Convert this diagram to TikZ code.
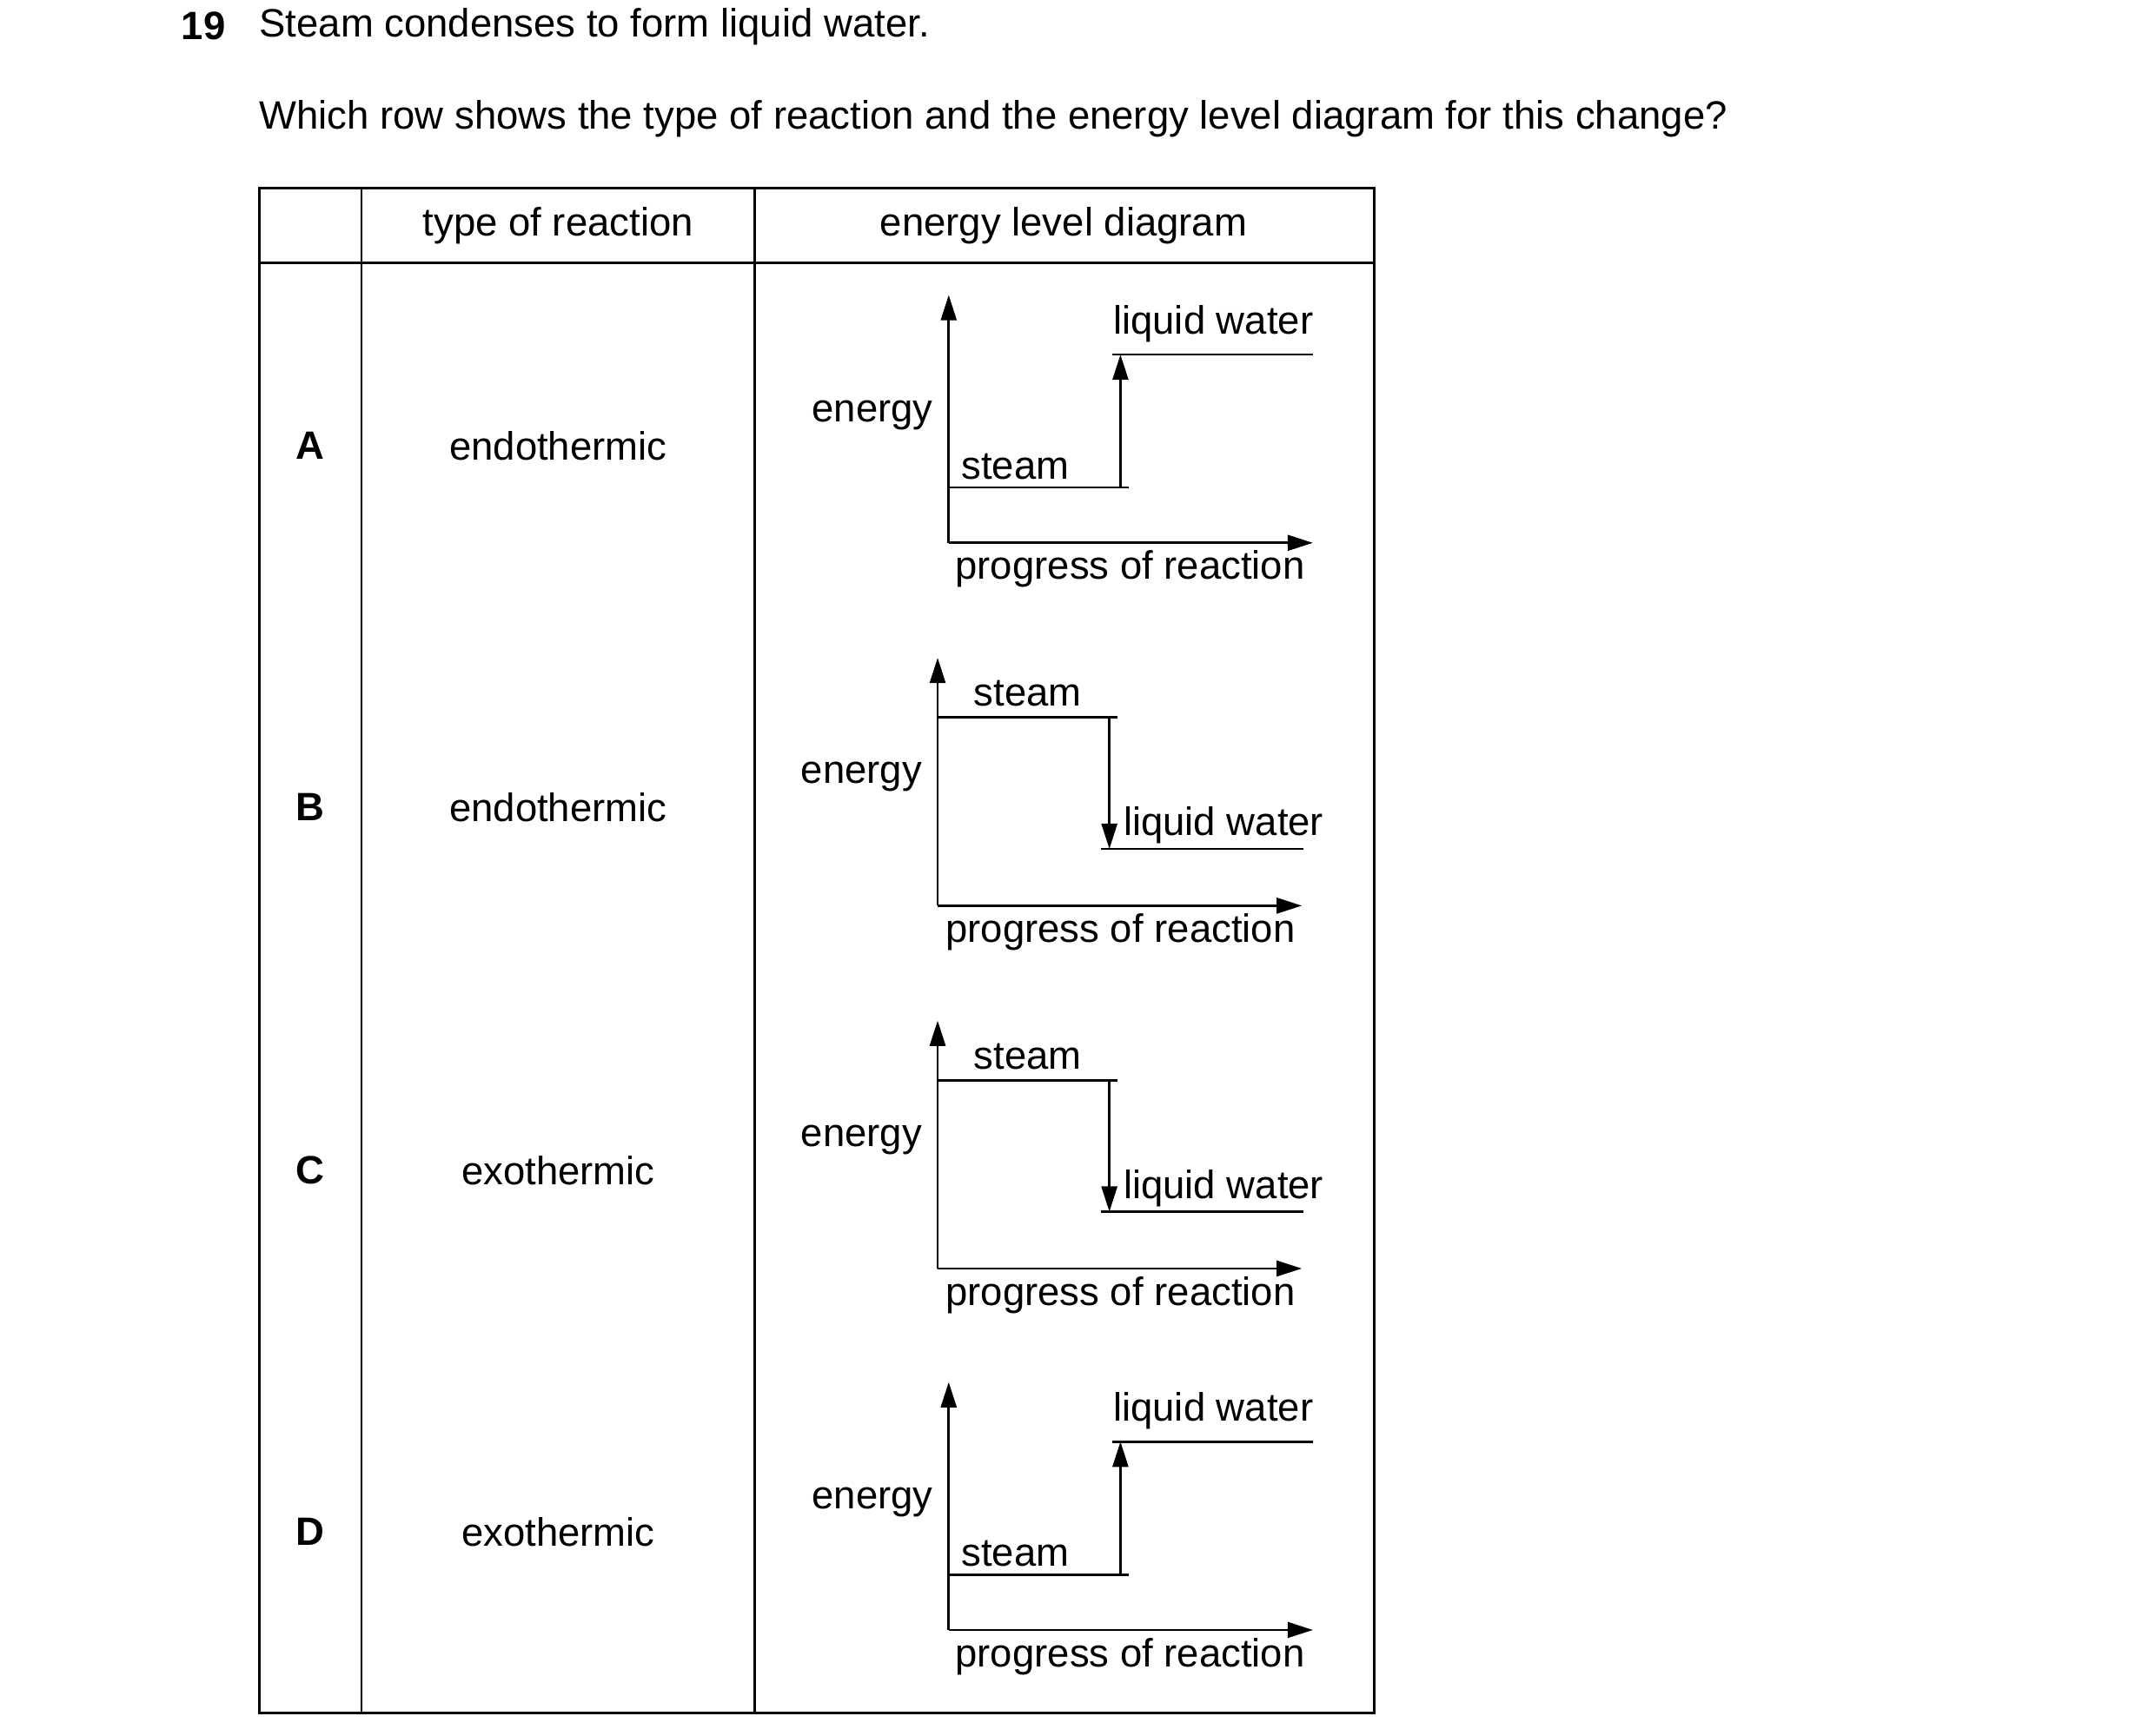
\documentclass[tikz,border=0pt]{standalone}
\usepackage{fontspec}
\setmainfont{Liberation Sans}
\usetikzlibrary{arrows.meta}
\begin{document}
\begin{tikzpicture}[x=0.025cm,y=-0.025cm,
  every node/.style={font=\fontsize{20.3}{24}\selectfont, inner sep=0pt},
  ln/.style={line width=1.3pt},
  ar/.style={line width=1.3pt,-{Triangle[length=13pt,width=8pt]}}]
\useasboundingbox (0,0) rectangle (1556,1253);
% title
\node[font=\fontsize{20.3}{24}\selectfont\bfseries] (q) at (147,19) {19};
\node[anchor=west] (t1) at (187,19) {Steam condenses to form liquid water.};
\node[anchor=west] (t2) at (187,86) {Which row shows the type of reaction and the energy level diagram for this change?};
% table
\draw[ln] (187,136) rectangle (992,1237);
\draw[ln] (187,190) -- (992,190);
\draw[ln] (261,136) -- (261,1237);
\draw[ln] (545,136) -- (545,1237);
\node (h1) at (403,163) {type of reaction};
\node (h2) at (768,163) {energy level diagram};
\foreach \l/\y/\t in {A/322/endothermic,B/583/endothermic,C/845/exothermic,D/1106/exothermic}{
  \node[font=\fontsize{20.3}{24}\selectfont\bfseries] (L\l) at (224,\y) {\l};
  \node (T\l) at (403,\y) {\t};
}
% A and D diagrams
\foreach \n/\o in {A/0,D/785}{
 \begin{scope}[yshift=-\o*0.025cm]
  \coordinate (\n o) at (685,392);
  \coordinate (\n y) at (685,213);
  \coordinate (\n x) at (948,392);
  \coordinate (\n s1) at (685,352); \coordinate (\n s2) at (815,352);
  \coordinate (\n a1) at (809,352); \coordinate (\n a2) at (809,256);
  \coordinate (\n w1) at (803,256); \coordinate (\n w2) at (948,256);
  \draw[ar] (\n o) -- (\n y);
  \draw[ar] (\n o) -- (\n x);
  \draw[ln] (\n s1) -- (\n s2);
  \draw[ar] (\n a1) -- (\n a2);
  \draw[ln] (\n w1) -- (\n w2);
  \node (\n lw) at (876,234) {liquid water};
  \node (\n en) at (630,300) {energy};
  \node[anchor=west] (\n st) at (694,337) {steam};
  \node (\n pr) at (816,411) {progress of reaction};
 \end{scope}}
% B and C diagrams
\foreach \n/\o in {B/0,C/262}{
 \begin{scope}[yshift=-\o*0.025cm]
  \coordinate (\n o) at (677,654);
  \coordinate (\n y) at (677,475);
  \coordinate (\n x) at (940,654);
  \coordinate (\n s1) at (677,518); \coordinate (\n s2) at (807,518);
  \coordinate (\n a1) at (801,518); \coordinate (\n a2) at (801,613);
  \coordinate (\n w1) at (795,613); \coordinate (\n w2) at (941,613);
  \draw[ar] (\n o) -- (\n y);
  \draw[ar] (\n o) -- (\n x);
  \draw[ln] (\n s1) -- (\n s2);
  \draw[ar] (\n a1) -- (\n a2);
  \draw[ln] (\n w1) -- (\n w2);
  \node (\n st) at (742,501) {steam};
  \node (\n en) at (622,561) {energy};
  \node[anchor=west] (\n lw) at (811,596) {liquid water};
  \node (\n pr) at (809,673) {progress of reaction};
 \end{scope}}
\end{tikzpicture}
\end{document}
